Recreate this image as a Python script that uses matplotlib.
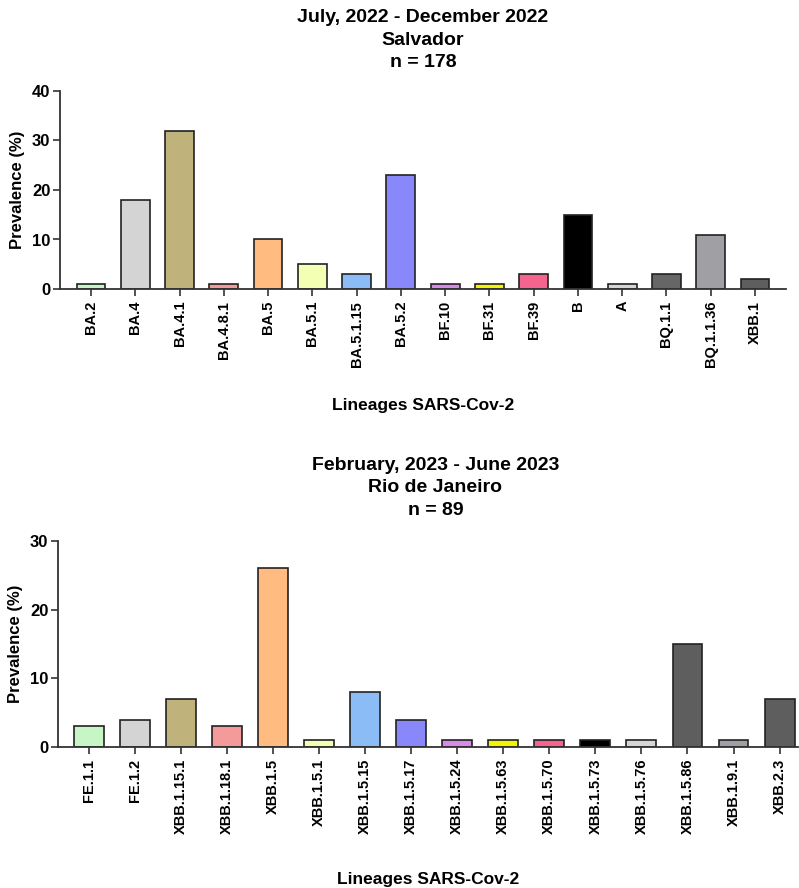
import matplotlib
matplotlib.use('Agg')
import matplotlib.pyplot as plt

plt.rcParams['font.family'] = ['Liberation Sans', 'DejaVu Sans']
plt.rcParams['font.weight'] = 'bold'

# Salvador, July - December 2022
salvador_lineages = ['BA.2', 'BA.4', 'BA.4.1', 'BA.4.8.1', 'BA.5', 'BA.5.1', 'BA.5.1.15',
                     'BA.5.2', 'BF.10', 'BF.31', 'BF.39', 'B', 'A', 'BQ.1.1',
                     'BQ.1.1.36', 'XBB.1']
salvador_prev = [1, 18, 32, 1, 10, 5, 3, 23, 1, 1, 3, 15, 1, 3, 11, 2]
salvador_colors = ['#c6f5c6', '#d4d4d4', '#bfb27a', '#f59a9a', '#ffbb80', '#f3ffb3',
                   '#8bbcf5', '#8888fa', '#d88ae8', '#f5f500', '#f5638f', '#000000',
                   '#d6d6d6', '#666666', '#a0a0a4', '#5e5e5e']

# Rio de Janeiro, February - June 2023
rio_lineages = ['FE.1.1', 'FE.1.2', 'XBB.1.15.1', 'XBB.1.18.1', 'XBB.1.5', 'XBB.1.5.1',
                'XBB.1.5.15', 'XBB.1.5.17', 'XBB.1.5.24', 'XBB.1.5.63', 'XBB.1.5.70',
                'XBB.1.5.73', 'XBB.1.5.76', 'XBB.1.5.86', 'XBB.1.9.1', 'XBB.2.3']
rio_prev = [3, 4, 7, 3, 26, 1, 8, 4, 1, 1, 1, 1, 1, 15, 1, 7]
rio_colors = ['#c6f5c6', '#d4d4d4', '#bfb27a', '#f59a9a', '#ffbb80', '#f3ffb3',
              '#8bbcf5', '#8888fa', '#d88ae8', '#f5f500', '#f5638f', '#000000',
              '#d6d6d6', '#5e5e5e', '#a0a0a4', '#5e5e5e']

W, H = 799, 888
fig = plt.figure(figsize=(W / 100, H / 100), dpi=100)


def px_axes(left, top, right, bottom):
    return fig.add_axes([left / W, 1 - bottom / H, (right - left) / W, (bottom - top) / H])


def draw_panel(ax, labels, values, colors, ymax, xlim, title, title_pad,
               xlabel_pad, title_x=0.5):
    x = range(len(labels))
    ax.bar(x, values, width=0.65, color=colors, edgecolor='#222222', linewidth=1.2, zorder=2)
    ax.set_xlim(*xlim)
    ax.set_ylim(0, ymax)
    ax.set_yticks(range(0, ymax + 1, 10))
    ax.set_xticks(list(x))
    ax.set_xticklabels(labels, rotation=90, fontsize=10.5, fontweight='bold')
    ax.tick_params(axis='y', labelsize=12, width=1.2, length=5, color='#333333', pad=2)
    ax.tick_params(axis='x', width=1.2, length=5, color='#333333')
    for s in ('top', 'right'):
        ax.spines[s].set_visible(False)
    for s in ('left', 'bottom'):
        ax.spines[s].set_linewidth(1.3)
        ax.spines[s].set_color('#333333')
    ax.set_ylabel('Prevalence (%)', fontsize=12, fontweight='bold', labelpad=5)
    ax.set_xlabel('Lineages SARS-Cov-2', fontsize=12.5, fontweight='bold', labelpad=xlabel_pad)
    ax.set_title(title, fontsize=14, fontweight='bold', linespacing=1.42,
                 pad=title_pad, x=title_x)


ax1 = px_axes(60, 91, 786, 289)
draw_panel(ax1, salvador_lineages, salvador_prev, salvador_colors, 40, (-0.7, 15.7),
           'July, 2022 - December 2022\nSalvador\nn = 178', 17, 22)

ax2 = px_axes(58, 541, 798, 747)
draw_panel(ax2, rio_lineages, rio_prev, rio_colors, 30, (-0.67, 15.4),
           'February, 2023 - June 2023\nRio de Janeiro\nn = 89', 19, 27, 0.51)

fig.savefig('out.png', dpi=100)
